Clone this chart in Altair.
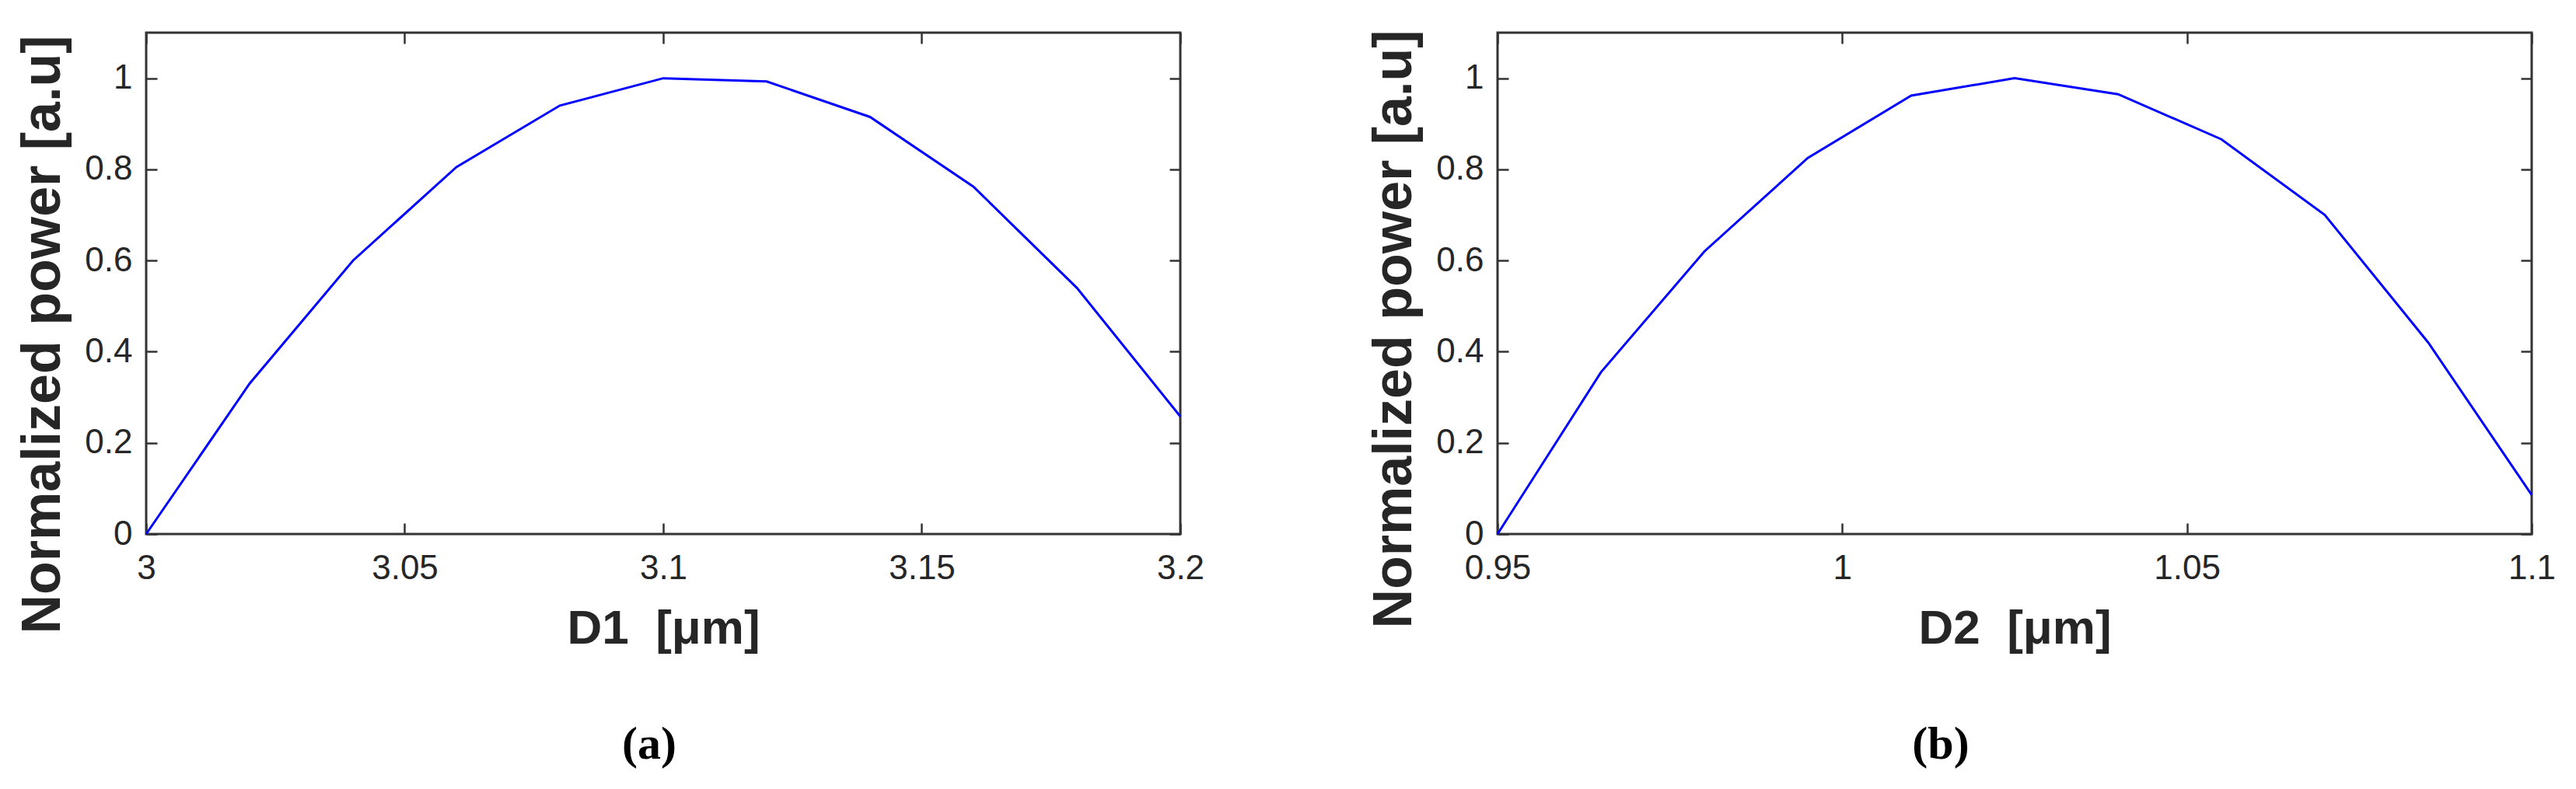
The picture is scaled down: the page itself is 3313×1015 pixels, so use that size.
import altair as alt
import pandas as pd

# ---- data ----
d1_um = [3.00, 3.02, 3.04, 3.06, 3.08, 3.10, 3.12, 3.14, 3.16, 3.18, 3.20]
power1 = [0.0, 0.33, 0.60, 0.805, 0.94, 1.0, 0.993, 0.915, 0.762, 0.54, 0.258]

d2_um = [0.95, 0.965, 0.98, 0.995, 1.01, 1.025, 1.04, 1.055, 1.07, 1.085, 1.10]
power2 = [0.0, 0.355, 0.62, 0.825, 0.962, 1.0, 0.965, 0.866, 0.70, 0.42, 0.086]

x1_ticks = [3.0, 3.05, 3.1, 3.15, 3.2]
x2_ticks = [0.95, 1.0, 1.05, 1.1]
y_ticks = [0, 0.2, 0.4, 0.6, 0.8, 1.0]

x1_title = "D1\u00a0\u00a0[\u03bcm]"
x2_title = "D2\u00a0\u00a0[\u03bcm]"
y_title = "Normalized power [a.u]"

W, H = 1330, 645
SANS = "Liberation Sans"
INK = "#262626"


def panel(xs, ys, xdom, xticks, xtitle, caption, cap_dx, ytitle_y):
    df = pd.DataFrame({"x": xs, "y": ys})
    xscale = alt.Scale(domain=xdom, nice=False, zero=False)
    yscale = alt.Scale(domain=[0, 1.1], nice=False)
    base = alt.Chart(df)

    main = base.mark_line(color="#0000FF", strokeWidth=3).encode(
        x=alt.X(
            "x:Q", scale=xscale,
            axis=alt.Axis(
                orient="bottom", values=xticks, format="~g", title=xtitle,
                ticks=False, tickSize=0, domain=False, grid=False,
                labelFont=SANS, labelFontSize=44, labelColor=INK,
                labelPadding=22, labelFlush=False,
                titleFont=SANS, titleFontSize=62, titleFontWeight="bold",
                titleColor=INK, titleBaseline="alphabetic", titleY=140,
            ),
        ),
        y=alt.Y(
            "y:Q", scale=yscale,
            axis=alt.Axis(
                orient="left", values=y_ticks, format="~g", title=y_title,
                ticks=False, tickSize=0, domain=False, grid=False,
                labelFont=SANS, labelFontSize=44, labelColor=INK,
                labelPadding=18, labelFlush=False,
                titleFont=SANS, titleFontSize=70, titleFontWeight="bold",
                titleColor=INK, titleAngle=270, titleBaseline="alphabetic",
                titleAlign="center", titleX=-112, titleY=ytitle_y,
            ),
        ),
    )

    tick_only = dict(labels=False, title=None, domain=False, grid=False,
                     ticks=True, tickSize=14, tickWidth=2.5, tickColor="#333333")

    inner_a = base.mark_line(opacity=0).encode(
        x=alt.X("x:Q", scale=xscale,
                axis=alt.Axis(orient="top", offset=-H, values=xticks, **tick_only)),
        y=alt.Y("y:Q", scale=yscale,
                axis=alt.Axis(orient="right", offset=-W, values=y_ticks, **tick_only)),
    )
    inner_b = base.mark_line(opacity=0).encode(
        x=alt.X("x:Q", scale=xscale,
                axis=alt.Axis(orient="bottom", offset=-H, values=xticks, **tick_only)),
        y=alt.Y("y:Q", scale=yscale,
                axis=alt.Axis(orient="left", offset=-W, values=y_ticks, **tick_only)),
    )

    return alt.layer(main, inner_a, inner_b).resolve_axis(
        x="independent", y="independent"
    ).properties(
        width=W, height=H,
        title=alt.TitleParams(
            text=caption, orient="bottom", anchor="middle", frame="group",
            dx=cap_dx, offset=90, font="Liberation Serif", fontSize=60,
            fontWeight="bold", color="black",
        ),
    )


left = panel(d1_um, power1, [3.0, 3.2], x1_ticks, x1_title, "(a)", -18, 388)
right = panel(d2_um, power2, [0.95, 1.1], x2_ticks, x2_title, "(b)", -95, 381)

chart = alt.hconcat(left, right, spacing=408, bounds="flush").properties(
    padding={"left": 10, "top": 28, "right": 10, "bottom": 10},
    background="white",
).configure_view(stroke="#333333", strokeWidth=3)

chart.save("out.html", embed_options={"renderer": "svg", "actions": False})
